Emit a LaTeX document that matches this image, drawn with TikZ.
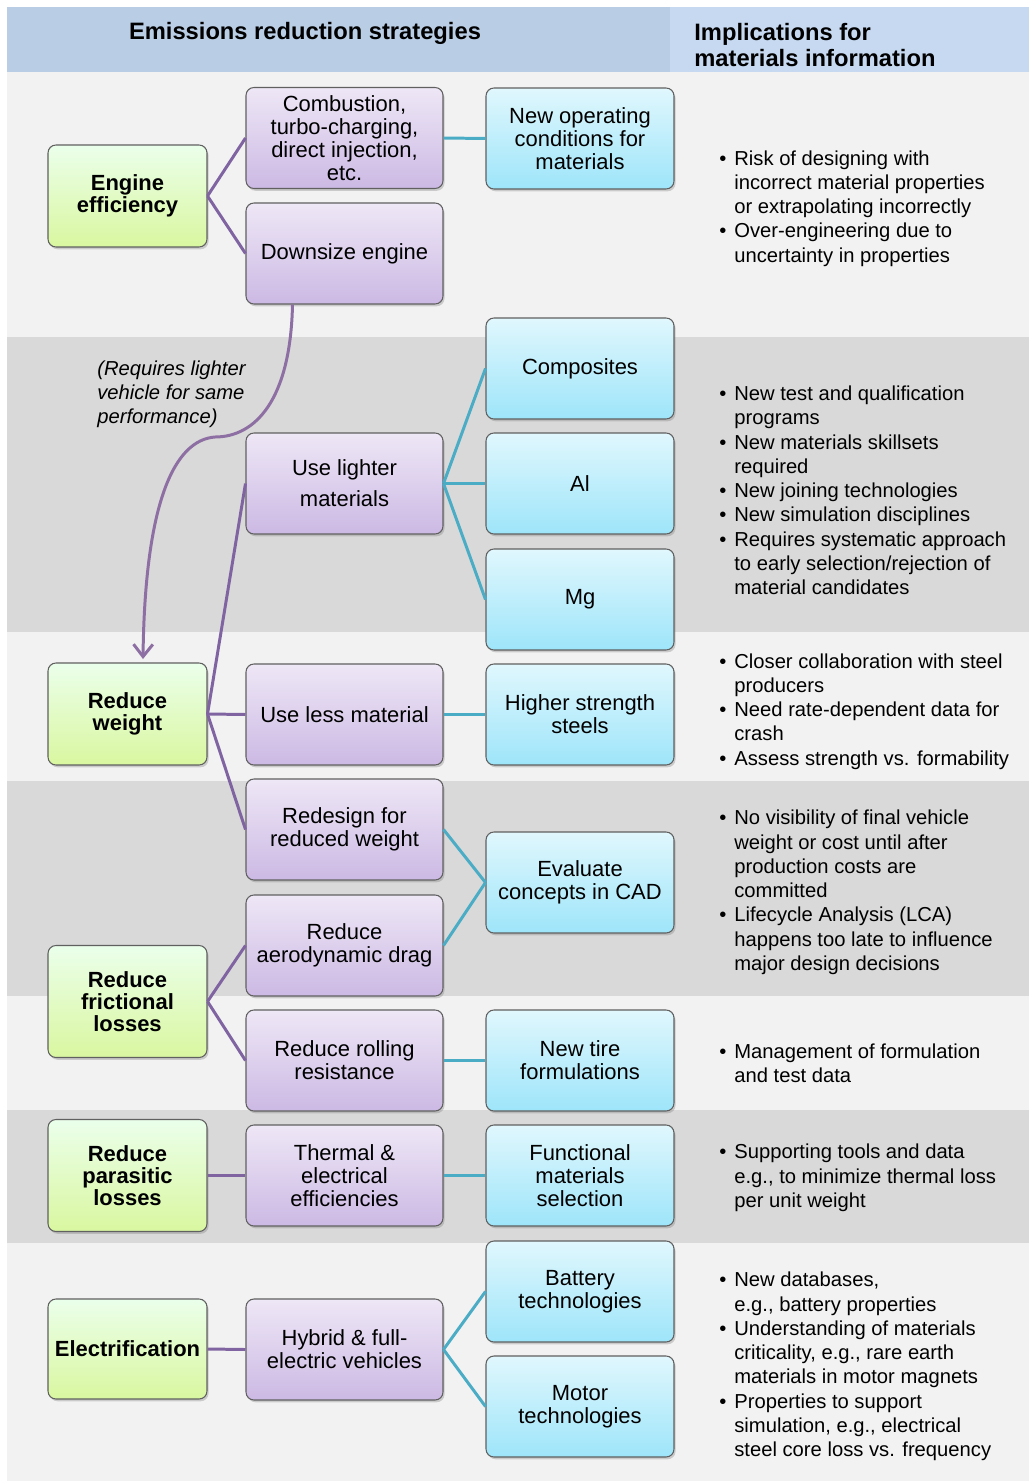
\documentclass[tikz,border=0pt]{standalone}
\usepackage{fontspec}
\setmainfont{Liberation Sans}
\usepackage{tikz}
\usetikzlibrary{positioning,shadows,arrows.meta}
\usepackage{xcolor}
\definecolor{hdrleft}{HTML}{B9CDE5}
\definecolor{hdrright}{HTML}{C6D9F1}
\definecolor{bandlight}{HTML}{F2F2F2}
\definecolor{banddark}{HTML}{D9D9D9}
\definecolor{linkpurple}{HTML}{8064A2}
\definecolor{linkblue}{HTML}{4BACC6}
\definecolor{arrowpurple}{HTML}{8E6FA3}
\newcommand{\bul}{\llap{\textbullet\hspace{4.5pt}}}

\begin{document}
\begin{tikzpicture}[x=0.02cm, y=-0.02cm,
  box/.style = {draw=gray!75!black, line width=0.6pt, rounded corners=4.5pt, align=center,
    inner sep=1pt, font=\fontsize{12.5}{13}\selectfont,
    drop shadow={opacity=0.35, shadow xshift=0.9pt, shadow yshift=-1.3pt}},
  goal/.style = {box, top color=green!8!white, bottom color={rgb,255:red,217;green,247;blue,160},
    minimum width=3.18cm, minimum height=2.04cm, font=\fontsize{12.5}{12.5}\selectfont\bfseries},
  strategy/.style = {box, top color={rgb,255:red,238;green,231;blue,246},
    bottom color={rgb,255:red,204;green,185;blue,228}, minimum width=3.94cm, minimum height=2.02cm},
  material/.style = {box, top color={rgb,255:red,224;green,247;blue,253},
    bottom color={rgb,255:red,158;green,229;blue,250}, minimum width=3.76cm, minimum height=2.02cm},
  implication/.style = {anchor=west, align=left, inner sep=0pt, font=\fontsize{11.5}{13.8}\selectfont},
  plink/.style = {draw=linkpurple, line width=1.7pt},
  blink/.style = {draw=linkblue, line width=1.7pt}
]
\useasboundingbox (0,0) rectangle (1029,1483);

% background bands
\fill[hdrleft] (7,7) rectangle (670,72);
\fill[hdrright] (670,7) rectangle (1029,72);
\foreach \top/\bot/\col in {72/337/bandlight, 337/632/banddark, 632/781/bandlight,
    781/996/banddark, 996/1110/bandlight, 1110/1243/banddark, 1243/1481/bandlight}
  \fill[\col] (7,\top) rectangle (1029,\bot);

\node[font=\fontsize{13.5}{15.3}\selectfont\bfseries] (hleft) at (305,33) {Emissions reduction strategies};
\node[anchor=west, align=left, inner sep=0pt, font=\fontsize{13.5}{15.3}\selectfont\bfseries] (hright)
  at (694,45) {Implications for\\materials information};

\node[goal] (ee) at (127.5,196) {Engine\\efficiency};
\node[goal] (rw) at (127.5,714) {Reduce\\weight};
\node[goal, minimum height=2.24cm] (rf) at (127.5,1001.5) {Reduce\\frictional\\losses};
\node[goal, minimum height=2.24cm] (rp) at (127.5,1175.5) {Reduce\\parasitic\\losses};
\node[goal, minimum height=2cm] (el) at (127.5,1349) {Electrification};

\node[strategy] (comb) at (344.5,138) {Combustion,\\turbo-charging,\\direct injection,\\etc.};
\node[strategy] (down) at (344.5,253.5) {Downsize engine};
\node[strategy] (light) at (344.5,483.5) {Use lighter\\[4.5pt]materials};
\node[strategy] (less) at (344.5,714.5) {Use less material};
\node[strategy] (redes) at (344.5,829.5) {Redesign for\\reduced weight};
\node[strategy] (aero) at (344.5,945.5) {Reduce\\aerodynamic drag};
\node[strategy] (roll) at (344.5,1060.5) {Reduce rolling\\resistance};
\node[strategy] (therm) at (344.5,1175.5) {Thermal \&\\electrical\\efficiencies};
\node[strategy] (hyb) at (344.5,1349.5) {Hybrid \& full-\\electric vehicles};

\node[material] (newop) at (580,138.5) {New operating\\conditions for\\materials};
\node[material] (comp) at (580,368.5) {Composites};
\node[material] (al) at (580,483.5) {Al};
\node[material] (mg) at (580,599.5) {Mg};
\node[material] (hss) at (580,714.5) {Higher strength\\steels};
\node[material] (cad) at (580,882.5) {Evaluate\\concepts in CAD};
\node[material] (tire) at (580,1060.5) {New tire\\formulations};
\node[material] (func) at (580,1175.5) {Functional\\materials\\selection};
\node[material] (batt) at (580,1291.5) {Battery\\technologies};
\node[material] (motor) at (580,1406.5) {Motor\\technologies};

\draw[plink] (ee.east) -- (comb.west);
\draw[plink] (ee.east) -- (down.west);
\draw[plink] (rw.east) -- (light.west);
\draw[plink] (rw.east) -- (less.west);
\draw[plink] (rw.east) -- (redes.west);
\draw[plink] (rf.east) -- (aero.west);
\draw[plink] (rf.east) -- (roll.west);
\draw[plink] (rp.east) -- (therm.west);
\draw[plink] (el.east) -- (hyb.west);

\draw[blink] (comb.east) -- (newop.west);
\draw[blink] (light.east) -- (comp.west);
\draw[blink] (light.east) -- (al.west);
\draw[blink] (light.east) -- (mg.west);
\draw[blink] (less.east) -- (hss.west);
\draw[blink] (redes.east) -- (cad.west);
\draw[blink] (aero.east) -- (cad.west);
\draw[blink] (roll.east) -- (tire.west);
\draw[blink] (therm.east) -- (func.west);
\draw[blink] (hyb.east) -- (batt.west);
\draw[blink] (hyb.east) -- (motor.west);

% downsizing needs a lighter vehicle
\coordinate (bend) at (215,437);
\coordinate (tip) at (143,659);
\draw[arrowpurple, line width=1.7pt, -{Straight Barb[length=7pt, width=11pt]}]
  ([xshift=-1.04cm]down.south) .. controls +(-2,96) and +(40,0) .. (bend)
  .. controls +(-40,3) and +(2,-159) .. (tip);
\node[anchor=west, align=left, inner sep=0pt, font=\fontsize{11.5}{13.6}\selectfont\itshape] (why)
  at (97,394) {(Requires lighter\\vehicle for same\\performance)};

\node[implication] (i1) at (734,208.5) {\bul Risk of designing with\\incorrect material properties\\or extrapolating incorrectly\\\bul Over-engineering due to\\uncertainty in properties};
\node[implication] (i2) at (734,490.5) {\bul New test and qualification\\programs\\\bul New materials skillsets\\required\\\bul New joining technologies\\\bul New simulation disciplines\\\bul Requires systematic approach\\to early selection/rejection of\\material candidates};
\node[implication] (i3) at (734,711.5) {\bul Closer collaboration with steel\\producers\\\bul Need rate-dependent data for\\crash\\\bul Assess strength vs. formability};
\node[implication] (i4) at (734,892.5) {\bul No visibility of final vehicle\\weight or cost until after\\production costs are\\committed\\\bul Lifecycle Analysis (LCA)\\happens too late to influence\\major design decisions};
\node[implication] (i5) at (734,1063) {\bul Management of formulation\\and test data};
\node[implication] (i6) at (734,1178) {\bul Supporting tools and data\\e.g., to minimize thermal loss\\per unit weight};
\node[implication] (i7) at (734,1366.5) {\bul New databases,\\e.g., battery properties\\\bul Understanding of materials\\criticality, e.g., rare earth\\materials in motor magnets\\\bul Properties to support\\simulation, e.g., electrical\\steel core loss vs. frequency};
\end{tikzpicture}
\end{document}
